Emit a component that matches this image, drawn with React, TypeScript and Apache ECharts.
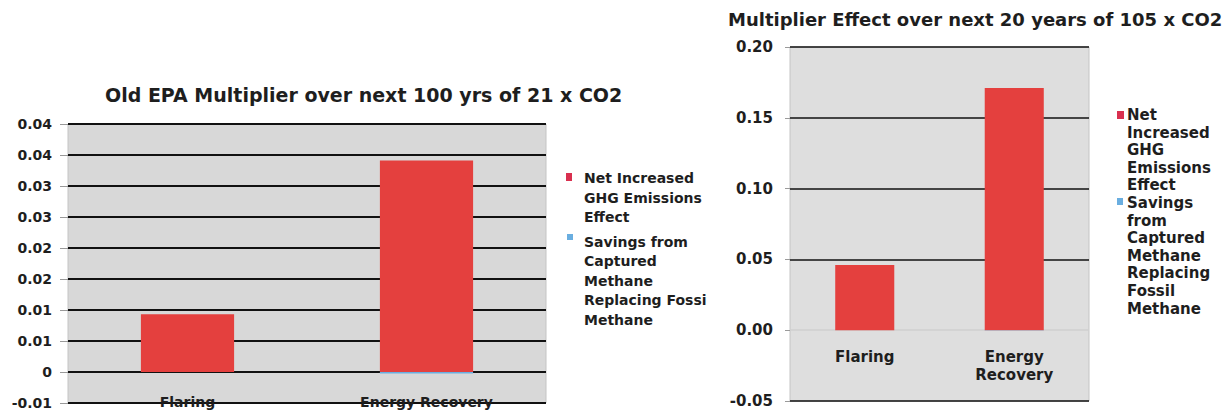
import React, { useEffect, useRef } from 'react';
import * as echarts from 'echarts';

const categories = ['Flaring', 'Energy Recovery'];
const seriesNames = [
  'Net Increased GHG Emissions Effect',
  'Savings from Captured Methane Replacing Fossil Methane',
];
const leftNet = [0.0093, 0.0341];
const leftSavings = [0, -0.00025];
const rightNet = [0.046, 0.171];
const rightSavings = [0, -0.0003];
const leftTicks = ['-0.01', '0', '0.01', '0.01', '0.02', '0.02', '0.03', '0.03', '0.04', '0.04'];
const rightTicks = ['-0.05', '0.00', '0.05', '0.10', '0.15', '0.20'];
const titles = [
  'Old EPA Multiplier over next 100 yrs of 21 x CO2',
  'Multiplier Effect over next 20 years of 105 x CO2',
];
const leftLegendLines = [
  ['Net Increased', 'GHG Emissions', 'Effect'],
  ['Savings from', 'Captured', 'Methane', 'Replacing Fossi', 'Methane'],
];
const rightLegendLines = [
  ['Net', 'Increased', 'GHG', 'Emissions', 'Effect'],
  ['Savings', 'from', 'Captured', 'Methane', 'Replacing', 'Fossil', 'Methane'],
];

const FONT = '"DejaVu Sans", Verdana, sans-serif';
const RED = '#e4403e';
const BLUE = '#6aaee0';
const TEXT = '#1e1e1e';

export default function App() {
  const ref = useRef<HTMLDivElement>(null);
  useEffect(() => {
    document.body.style.margin = '0';
    const chart = echarts.init(ref.current!, undefined, { renderer: 'svg' });

    const legendGraphic = (
      lines: string[][],
      x: number,
      markers: { x: number; y: number; w: number; h: number }[],
      tops: number[],
      fontSize: number,
      lh: number
    ) => {
      const els: any[] = [];
      lines.forEach((ls, i) => {
        els.push({
          type: 'rect',
          shape: { x: markers[i].x, y: markers[i].y, width: markers[i].w, height: markers[i].h },
          style: { fill: i === 0 ? '#d9304f' : BLUE },
        });
        els.push({
          type: 'text',
          x,
          y: tops[i],
          style: {
            text: ls.join('\n'),
            fontSize,
            fontWeight: 'bold',
            fontFamily: FONT,
            lineHeight: lh,
            fill: TEXT,
            verticalAlign: 'top',
            align: 'left',
          },
        });
      });
      return els;
    };

    const option: any = {
      animation: false,
      backgroundColor: '#ffffff',
      textStyle: { fontFamily: FONT },
      title: [
        {
          text: titles[0],
          left: 105,
          top: 84,
          padding: 0,
          textStyle: { fontSize: 19, fontWeight: 'bold', fontFamily: FONT, color: TEXT, lineHeight: 22 },
        },
        {
          text: titles[1],
          left: 728,
          top: 8,
          padding: 0,
          textStyle: { fontSize: 18, fontWeight: 'bold', fontFamily: FONT, color: TEXT, lineHeight: 22 },
        },
      ],
      grid: [
        {
          left: 68,
          top: 124,
          width: 478,
          height: 279,
          show: true,
          containLabel: false,
          outerBoundsMode: 'none',
          backgroundColor: '#d8d8d8',
          borderColor: '#c4c4c4',
          borderWidth: 1,
        },
        {
          left: 790,
          top: 47,
          width: 299,
          height: 354,
          show: true,
          containLabel: false,
          outerBoundsMode: 'none',
          backgroundColor: '#dedede',
          borderColor: '#c4c4c4',
          borderWidth: 1,
        },
      ],
      xAxis: [
        {
          type: 'category',
          gridIndex: 0,
          data: categories,
          axisLine: { show: false, onZero: false },
          axisTick: { show: false },
          axisLabel: {
            margin: -8,
            fontSize: 14,
            lineHeight: 14,
            fontWeight: 'bold',
            fontFamily: FONT,
            color: TEXT,
          },
        },
        {
          type: 'category',
          gridIndex: 1,
          data: categories,
          axisLine: { show: false, onZero: false },
          axisTick: { show: false },
          axisLabel: {
            margin: -53,
            fontSize: 15,
            fontWeight: 'bold',
            fontFamily: FONT,
            color: TEXT,
            lineHeight: 18,
            formatter: (v: string) => v.replace(' ', '\n'),
          },
        },
      ],
      yAxis: [
        {
          type: 'value',
          gridIndex: 0,
          min: -0.005,
          max: 0.04,
          interval: 0.005,
          axisLine: { show: false },
          axisTick: { show: true, length: 8, lineStyle: { color: '#9a9a9a' } },
          splitLine: { show: true, lineStyle: { color: '#111111', width: 2 } },
          axisLabel: {
            margin: 16,
            fontSize: 14,
            lineHeight: 14,
            fontWeight: 'bold',
            fontFamily: FONT,
            color: TEXT,
            formatter: (v: number) => leftTicks[Math.round((v + 0.005) / 0.005)] ?? '',
          },
        },
        {
          type: 'value',
          gridIndex: 1,
          min: -0.05,
          max: 0.2,
          interval: 0.05,
          axisLine: { show: false },
          axisTick: { show: true, length: 5, lineStyle: { color: '#9a9a9a' } },
          splitLine: {
            show: true,
            lineStyle: { color: ['#111111', '#cfcfcf', '#111111', '#111111', '#111111', '#111111'], width: 1.5 },
          },
          axisLabel: {
            margin: 17,
            fontSize: 15,
            lineHeight: 15,
            fontWeight: 'bold',
            fontFamily: FONT,
            color: TEXT,
            formatter: (v: number) => rightTicks[Math.round((v + 0.05) / 0.05)] ?? '',
          },
        },
      ],
      series: [
        {
          name: seriesNames[0],
          type: 'bar',
          xAxisIndex: 0,
          yAxisIndex: 0,
          stack: 'left',
          barWidth: '39%',
          data: leftNet,
          itemStyle: { color: RED },
        },
        {
          name: seriesNames[1],
          type: 'bar',
          xAxisIndex: 0,
          yAxisIndex: 0,
          stack: 'left',
          barWidth: '39%',
          data: leftSavings,
          itemStyle: { color: BLUE },
        },
        {
          name: seriesNames[0],
          type: 'bar',
          xAxisIndex: 1,
          yAxisIndex: 1,
          stack: 'right',
          barWidth: '39.5%',
          data: rightNet,
          itemStyle: { color: RED },
        },
        {
          name: seriesNames[1],
          type: 'bar',
          xAxisIndex: 1,
          yAxisIndex: 1,
          stack: 'right',
          barWidth: '39.5%',
          data: rightSavings,
          itemStyle: { color: BLUE },
        },
      ],
      graphic: [
        ...legendGraphic(
          leftLegendLines,
          584,
          [
            { x: 566, y: 173, w: 6, h: 8 },
            { x: 567, y: 234, w: 6, h: 6 },
          ],
          [168.5, 232],
          14,
          19.5
        ),
        ...legendGraphic(
          rightLegendLines,
          1127,
          [
            { x: 1117, y: 111, w: 7, h: 8 },
            { x: 1117, y: 198, w: 6, h: 7 },
          ],
          [106.2, 194.2],
          15,
          17.6
        ),
      ],
    };
    chart.setOption(option);
    return () => chart.dispose();
  }, []);
  return <div ref={ref} style={{ width: 1228, height: 410 }} />;
}
